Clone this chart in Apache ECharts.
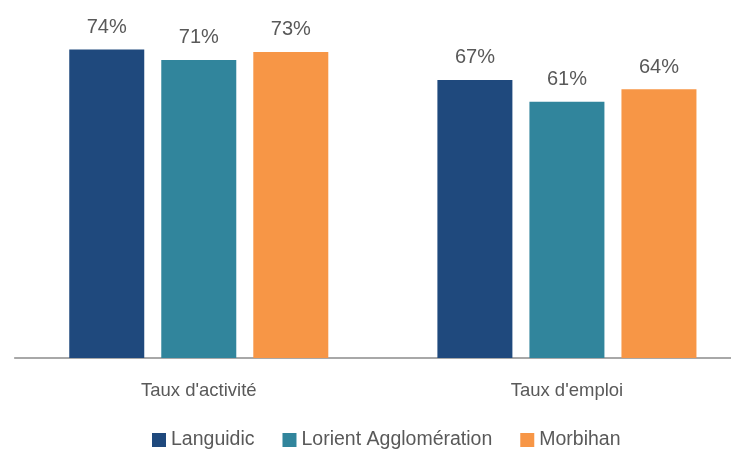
<!DOCTYPE html>
<html>
<head>
<meta charset="utf-8">
<script src="https://cdn.jsdelivr.net/npm/echarts@6/dist/echarts.min.js"></script>
<style>
  html, body { margin: 0; padding: 0; background: #ffffff; overflow: hidden; }
  #chart { width: 751px; height: 451px; }
</style>
</head>
<body>
<div id="chart"></div>
<script>
const categories = ["Taux d'activité", "Taux d'emploi"];
const seriesNames = ["Languidic", "Lorient Agglomération", "Morbihan"];
const languidic = [73.9, 66.6];
const lorient = [71.4, 61.4];
const morbihan = [73.3, 64.4];
const seriesValues = [languidic, lorient, morbihan];
const colors = ["#1F497D", "#31859C", "#F79646"];

const chart = echarts.init(document.getElementById('chart'), null, { renderer: 'canvas' });

const series = seriesNames.map((name, i) => ({
  name: name,
  type: 'bar',
  data: seriesValues[i],
  barWidth: 75,
  barGap: '22.7%',
  itemStyle: { color: colors[i] },
  label: {
    show: true,
    position: 'top',
    distance: 12,
    color: '#595959',
    fontFamily: '"Liberation Sans", Arial, sans-serif',
    fontSize: 20,
    formatter: p => Math.round(p.value) + '%'
  }
}));

chart.setOption({
  animation: false,
  backgroundColor: '#ffffff',
  grid: { left: 14.7, right: 0, top: 24, bottom: 93, containLabel: false },
  legend: {
    data: seriesNames,
    left: 152,
    top: 430,
    padding: 0,
    icon: 'rect',
    itemWidth: 14,
    itemHeight: 14,
    itemGap: 28,
    textStyle: {
      color: '#595959',
      fontFamily: '"Liberation Sans", Arial, sans-serif',
      fontSize: 19.5,
      lineHeight: 20
    }
  },
  xAxis: {
    type: 'category',
    data: categories,
    axisLine: { show: true, lineStyle: { color: '#8c8c8c', width: 1.5 } },
    axisTick: { show: false },
    axisLabel: {
      color: '#595959',
      fontFamily: '"Liberation Sans", Arial, sans-serif',
      fontSize: 18.5,
      margin: 23
    }
  },
  yAxis: {
    type: 'value',
    min: 0,
    max: 80,
    show: false,
    splitLine: { show: false }
  },
  series: series
});
</script>
</body>
</html>
